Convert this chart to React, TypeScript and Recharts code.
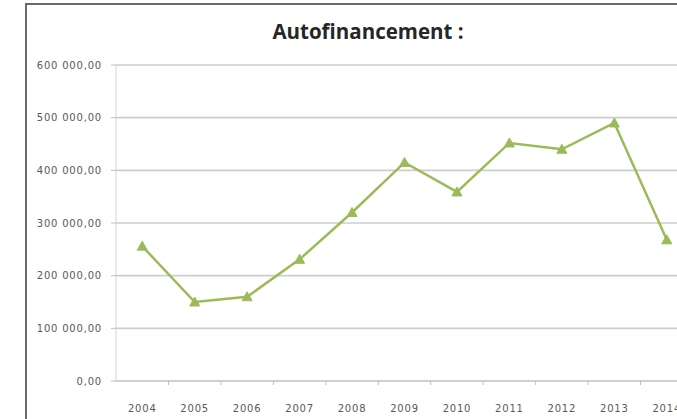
import React from "react";
import { CartesianGrid, Line, LineChart, XAxis, YAxis } from "recharts";

const years = ["2004", "2005", "2006", "2007", "2008", "2009", "2010", "2011", "2012", "2013", "2014"];
const autofinancement = [256000, 150000, 160000, 231000, 320000, 415000, 359000, 452000, 440000, 490000, 268000];
const yTicks = [0, 100000, 200000, 300000, 400000, 500000, 600000];

const data = years.map((year, i) => ({ year, value: autofinancement[i] }));

const CHART_W = 710;
const CHART_H = 419;
const MARGIN = { top: 65, right: 17, bottom: 0, left: 0 };
const Y_AXIS_W = 116;
const HALF_BAND = (CHART_W - MARGIN.left - MARGIN.right - Y_AXIS_W) / years.length / 2;

const GREEN = "#9bbb59";
const LABEL = "#595959";
const FONT = "'DejaVu Sans', sans-serif";

function fmt(v: number) {
  if (v === 0) return "0,00";
  const k = Math.floor(v / 1000);
  const r = String(v % 1000).padStart(3, "0");
  return `${k} ${r},00`;
}

function Triangle(props: any) {
  const { cx, cy, index } = props;
  if (cx == null || cy == null) return null;
  const pts = `${cx},${cy - 5} ${cx - 5},${cy + 4} ${cx + 5},${cy + 4}`;
  return <polygon key={`tri-${index}`} points={pts} fill={GREEN} stroke={GREEN} strokeWidth={1} />;
}

function YearTick(props: any) {
  const { x, y, payload } = props;
  return (
    <g>
      <line x1={x + HALF_BAND} y1={y} x2={x + HALF_BAND} y2={y + 4} stroke="#bfbfbf" />
      <text x={x} y={y + 31} textAnchor="middle" fill={LABEL} fontSize={10} fontFamily={FONT} letterSpacing={0.8}>
        {payload.value}
      </text>
    </g>
  );
}

export default function App() {
  return (
    <div
      style={{
        position: "absolute",
        left: 0,
        top: 0,
        width: 677,
        height: 419,
        overflow: "hidden",
        background: "#fff",
      }}
    >
      <div
        style={{
          position: "absolute",
          left: 25,
          top: 3,
          width: 700,
          height: 460,
          border: "2px solid #6a6a6a",
          boxSizing: "border-box",
        }}
      />
      <div
        style={{
          position: "absolute",
          left: 168,
          width: 400,
          top: 17,
          textAlign: "center",
          fontFamily: "'Open Sans', sans-serif",
          fontWeight: 700,
          fontSize: 20.5,
          color: "#262626",
        }}
      >
        Autofinancement :
      </div>
      <div style={{ position: "absolute", left: 0, top: 0 }}>
        <LineChart width={CHART_W} height={CHART_H} data={data} margin={MARGIN}>
          <CartesianGrid vertical={false} stroke="#cdcdcd" strokeWidth={1.6} />
          <XAxis
            dataKey="year"
            scale="band"
            height={CHART_H - MARGIN.top - MARGIN.bottom - 316}
            axisLine={{ stroke: "#cdcdcd", strokeWidth: 1.5 }}
            tickLine={false}
            tickSize={0}
            tickMargin={0}
            interval={0}
            tick={<YearTick />}
          />
          <YAxis
            width={Y_AXIS_W}
            domain={[0, 600000]}
            ticks={yTicks}
            interval={0}
            tickFormatter={fmt}
            axisLine={{ stroke: "#d4d4d4" }}
            tickLine={{ stroke: "#bfbfbf" }}
            tickSize={5}
            tickMargin={9}
            tick={{ fill: LABEL, fontSize: 10, fontFamily: FONT, letterSpacing: 0.8 }}
          />
          <Line
            type="linear"
            dataKey="value"
            stroke={GREEN}
            strokeWidth={2.5}
            dot={Triangle}
            activeDot={false}
            isAnimationActive={false}
          />
        </LineChart>
      </div>
    </div>
  );
}
